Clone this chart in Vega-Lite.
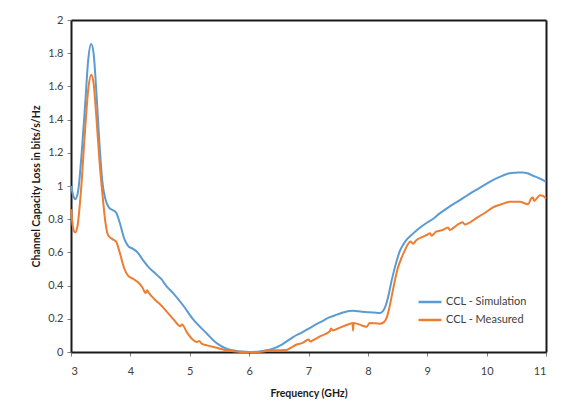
{
  "$schema": "https://vega.github.io/schema/vega-lite/v6.json",
  "autosize": {"type": "none"},
  "width": 475,
  "height": 332,
  "padding": {"left": 71, "top": 20, "right": 30, "bottom": 65},
  "background": "white",
  "config": {
    "font": "Lato",
    "view": {"stroke": null},
    "axis": {
      "labelFont": "Lato",
      "labelFontSize": 11,
      "labelColor": "#404040",
      "titleFont": "Lato",
      "titleFontSize": 10.5,
      "titleFontWeight": "bold",
      "titleColor": "#1a1a1a",
      "domainColor": "#1a1a1a",
      "domainWidth": 2,
      "tickColor": "#808080",
      "tickSize": 4,
      "grid": false
    }
  },
  "data": {
    "values": [
      {"f": 3.0, "v": 1.0, "s": "CCL - Simulation"},
      {"f": 3.04, "v": 0.94, "s": "CCL - Simulation"},
      {"f": 3.07, "v": 0.92, "s": "CCL - Simulation"},
      {"f": 3.12, "v": 0.97, "s": "CCL - Simulation"},
      {"f": 3.18, "v": 1.2, "s": "CCL - Simulation"},
      {"f": 3.24, "v": 1.5, "s": "CCL - Simulation"},
      {"f": 3.29, "v": 1.76, "s": "CCL - Simulation"},
      {"f": 3.34, "v": 1.855, "s": "CCL - Simulation"},
      {"f": 3.38, "v": 1.8, "s": "CCL - Simulation"},
      {"f": 3.43, "v": 1.55, "s": "CCL - Simulation"},
      {"f": 3.48, "v": 1.25, "s": "CCL - Simulation"},
      {"f": 3.53, "v": 1.02, "s": "CCL - Simulation"},
      {"f": 3.58, "v": 0.92, "s": "CCL - Simulation"},
      {"f": 3.64, "v": 0.87, "s": "CCL - Simulation"},
      {"f": 3.7, "v": 0.855, "s": "CCL - Simulation"},
      {"f": 3.76, "v": 0.84, "s": "CCL - Simulation"},
      {"f": 3.82, "v": 0.78, "s": "CCL - Simulation"},
      {"f": 3.9, "v": 0.68, "s": "CCL - Simulation"},
      {"f": 3.96, "v": 0.64, "s": "CCL - Simulation"},
      {"f": 4.05, "v": 0.62, "s": "CCL - Simulation"},
      {"f": 4.12, "v": 0.6, "s": "CCL - Simulation"},
      {"f": 4.2, "v": 0.56, "s": "CCL - Simulation"},
      {"f": 4.31, "v": 0.51, "s": "CCL - Simulation"},
      {"f": 4.4, "v": 0.48, "s": "CCL - Simulation"},
      {"f": 4.46, "v": 0.46, "s": "CCL - Simulation"},
      {"f": 4.52, "v": 0.44, "s": "CCL - Simulation"},
      {"f": 4.6, "v": 0.4, "s": "CCL - Simulation"},
      {"f": 4.72, "v": 0.355, "s": "CCL - Simulation"},
      {"f": 4.89, "v": 0.28, "s": "CCL - Simulation"},
      {"f": 5.05, "v": 0.2, "s": "CCL - Simulation"},
      {"f": 5.15, "v": 0.16, "s": "CCL - Simulation"},
      {"f": 5.29, "v": 0.11, "s": "CCL - Simulation"},
      {"f": 5.4, "v": 0.07, "s": "CCL - Simulation"},
      {"f": 5.51, "v": 0.04, "s": "CCL - Simulation"},
      {"f": 5.62, "v": 0.02, "s": "CCL - Simulation"},
      {"f": 5.73, "v": 0.01, "s": "CCL - Simulation"},
      {"f": 5.85, "v": 0.003, "s": "CCL - Simulation"},
      {"f": 6.0, "v": 0.0, "s": "CCL - Simulation"},
      {"f": 6.2, "v": 0.005, "s": "CCL - Simulation"},
      {"f": 6.4, "v": 0.02, "s": "CCL - Simulation"},
      {"f": 6.55, "v": 0.045, "s": "CCL - Simulation"},
      {"f": 6.74, "v": 0.09, "s": "CCL - Simulation"},
      {"f": 6.9, "v": 0.12, "s": "CCL - Simulation"},
      {"f": 7.07, "v": 0.155, "s": "CCL - Simulation"},
      {"f": 7.2, "v": 0.18, "s": "CCL - Simulation"},
      {"f": 7.36, "v": 0.21, "s": "CCL - Simulation"},
      {"f": 7.48, "v": 0.225, "s": "CCL - Simulation"},
      {"f": 7.6, "v": 0.24, "s": "CCL - Simulation"},
      {"f": 7.75, "v": 0.248, "s": "CCL - Simulation"},
      {"f": 7.9, "v": 0.242, "s": "CCL - Simulation"},
      {"f": 8.0, "v": 0.24, "s": "CCL - Simulation"},
      {"f": 8.1, "v": 0.238, "s": "CCL - Simulation"},
      {"f": 8.2, "v": 0.235, "s": "CCL - Simulation"},
      {"f": 8.25, "v": 0.245, "s": "CCL - Simulation"},
      {"f": 8.29, "v": 0.27, "s": "CCL - Simulation"},
      {"f": 8.34, "v": 0.33, "s": "CCL - Simulation"},
      {"f": 8.4, "v": 0.43, "s": "CCL - Simulation"},
      {"f": 8.47, "v": 0.53, "s": "CCL - Simulation"},
      {"f": 8.54, "v": 0.61, "s": "CCL - Simulation"},
      {"f": 8.6, "v": 0.65, "s": "CCL - Simulation"},
      {"f": 8.65, "v": 0.675, "s": "CCL - Simulation"},
      {"f": 8.75, "v": 0.71, "s": "CCL - Simulation"},
      {"f": 8.88, "v": 0.75, "s": "CCL - Simulation"},
      {"f": 9.0, "v": 0.78, "s": "CCL - Simulation"},
      {"f": 9.09, "v": 0.8, "s": "CCL - Simulation"},
      {"f": 9.21, "v": 0.835, "s": "CCL - Simulation"},
      {"f": 9.35, "v": 0.87, "s": "CCL - Simulation"},
      {"f": 9.55, "v": 0.915, "s": "CCL - Simulation"},
      {"f": 9.7, "v": 0.95, "s": "CCL - Simulation"},
      {"f": 9.89, "v": 0.99, "s": "CCL - Simulation"},
      {"f": 10.05, "v": 1.025, "s": "CCL - Simulation"},
      {"f": 10.22, "v": 1.055, "s": "CCL - Simulation"},
      {"f": 10.39, "v": 1.077, "s": "CCL - Simulation"},
      {"f": 10.5, "v": 1.08, "s": "CCL - Simulation"},
      {"f": 10.61, "v": 1.082, "s": "CCL - Simulation"},
      {"f": 10.7, "v": 1.075, "s": "CCL - Simulation"},
      {"f": 10.78, "v": 1.062, "s": "CCL - Simulation"},
      {"f": 10.9, "v": 1.045, "s": "CCL - Simulation"},
      {"f": 11.0, "v": 1.025, "s": "CCL - Simulation"},

      {"f": 3.0, "v": 0.86, "s": "CCL - Measured"},
      {"f": 3.03, "v": 0.76, "s": "CCL - Measured"},
      {"f": 3.07, "v": 0.72, "s": "CCL - Measured"},
      {"f": 3.11, "v": 0.76, "s": "CCL - Measured"},
      {"f": 3.17, "v": 0.98, "s": "CCL - Measured"},
      {"f": 3.23, "v": 1.3, "s": "CCL - Measured"},
      {"f": 3.29, "v": 1.58, "s": "CCL - Measured"},
      {"f": 3.34, "v": 1.67, "s": "CCL - Measured"},
      {"f": 3.38, "v": 1.62, "s": "CCL - Measured"},
      {"f": 3.43, "v": 1.4, "s": "CCL - Measured"},
      {"f": 3.48, "v": 1.15, "s": "CCL - Measured"},
      {"f": 3.53, "v": 0.95, "s": "CCL - Measured"},
      {"f": 3.58, "v": 0.78, "s": "CCL - Measured"},
      {"f": 3.63, "v": 0.7, "s": "CCL - Measured"},
      {"f": 3.7, "v": 0.68, "s": "CCL - Measured"},
      {"f": 3.76, "v": 0.665, "s": "CCL - Measured"},
      {"f": 3.82, "v": 0.6, "s": "CCL - Measured"},
      {"f": 3.9, "v": 0.5, "s": "CCL - Measured"},
      {"f": 3.96, "v": 0.46, "s": "CCL - Measured"},
      {"f": 4.05, "v": 0.44, "s": "CCL - Measured"},
      {"f": 4.13, "v": 0.42, "s": "CCL - Measured"},
      {"f": 4.2, "v": 0.39, "s": "CCL - Measured"},
      {"f": 4.26, "v": 0.355, "s": "CCL - Measured"},
      {"f": 4.28, "v": 0.372, "s": "CCL - Measured"},
      {"f": 4.31, "v": 0.356, "s": "CCL - Measured"},
      {"f": 4.43, "v": 0.31, "s": "CCL - Measured"},
      {"f": 4.52, "v": 0.28, "s": "CCL - Measured"},
      {"f": 4.62, "v": 0.24, "s": "CCL - Measured"},
      {"f": 4.73, "v": 0.195, "s": "CCL - Measured"},
      {"f": 4.84, "v": 0.155, "s": "CCL - Measured"},
      {"f": 4.87, "v": 0.165, "s": "CCL - Measured"},
      {"f": 4.95, "v": 0.12, "s": "CCL - Measured"},
      {"f": 5.05, "v": 0.075, "s": "CCL - Measured"},
      {"f": 5.12, "v": 0.06, "s": "CCL - Measured"},
      {"f": 5.16, "v": 0.067, "s": "CCL - Measured"},
      {"f": 5.2, "v": 0.05, "s": "CCL - Measured"},
      {"f": 5.29, "v": 0.04, "s": "CCL - Measured"},
      {"f": 5.4, "v": 0.03, "s": "CCL - Measured"},
      {"f": 5.51, "v": 0.02, "s": "CCL - Measured"},
      {"f": 5.62, "v": 0.01, "s": "CCL - Measured"},
      {"f": 5.73, "v": 0.005, "s": "CCL - Measured"},
      {"f": 6.0, "v": 0.0, "s": "CCL - Measured"},
      {"f": 6.2, "v": 0.002, "s": "CCL - Measured"},
      {"f": 6.4, "v": 0.01, "s": "CCL - Measured"},
      {"f": 6.63, "v": 0.012, "s": "CCL - Measured"},
      {"f": 6.7, "v": 0.025, "s": "CCL - Measured"},
      {"f": 6.8, "v": 0.045, "s": "CCL - Measured"},
      {"f": 6.9, "v": 0.055, "s": "CCL - Measured"},
      {"f": 7.0, "v": 0.075, "s": "CCL - Measured"},
      {"f": 7.03, "v": 0.063, "s": "CCL - Measured"},
      {"f": 7.07, "v": 0.07, "s": "CCL - Measured"},
      {"f": 7.2, "v": 0.095, "s": "CCL - Measured"},
      {"f": 7.36, "v": 0.125, "s": "CCL - Measured"},
      {"f": 7.38, "v": 0.142, "s": "CCL - Measured"},
      {"f": 7.41, "v": 0.13, "s": "CCL - Measured"},
      {"f": 7.55, "v": 0.15, "s": "CCL - Measured"},
      {"f": 7.7, "v": 0.17, "s": "CCL - Measured"},
      {"f": 7.74, "v": 0.175, "s": "CCL - Measured"},
      {"f": 7.75, "v": 0.13, "s": "CCL - Measured"},
      {"f": 7.76, "v": 0.175, "s": "CCL - Measured"},
      {"f": 7.9, "v": 0.16, "s": "CCL - Measured"},
      {"f": 7.98, "v": 0.152, "s": "CCL - Measured"},
      {"f": 8.03, "v": 0.175, "s": "CCL - Measured"},
      {"f": 8.2, "v": 0.17, "s": "CCL - Measured"},
      {"f": 8.27, "v": 0.18, "s": "CCL - Measured"},
      {"f": 8.32, "v": 0.21, "s": "CCL - Measured"},
      {"f": 8.37, "v": 0.28, "s": "CCL - Measured"},
      {"f": 8.42, "v": 0.37, "s": "CCL - Measured"},
      {"f": 8.5, "v": 0.5, "s": "CCL - Measured"},
      {"f": 8.57, "v": 0.57, "s": "CCL - Measured"},
      {"f": 8.62, "v": 0.61, "s": "CCL - Measured"},
      {"f": 8.66, "v": 0.64, "s": "CCL - Measured"},
      {"f": 8.72, "v": 0.665, "s": "CCL - Measured"},
      {"f": 8.76, "v": 0.652, "s": "CCL - Measured"},
      {"f": 8.82, "v": 0.675, "s": "CCL - Measured"},
      {"f": 8.9, "v": 0.69, "s": "CCL - Measured"},
      {"f": 8.99, "v": 0.705, "s": "CCL - Measured"},
      {"f": 9.05, "v": 0.715, "s": "CCL - Measured"},
      {"f": 9.07, "v": 0.7, "s": "CCL - Measured"},
      {"f": 9.15, "v": 0.725, "s": "CCL - Measured"},
      {"f": 9.26, "v": 0.735, "s": "CCL - Measured"},
      {"f": 9.35, "v": 0.75, "s": "CCL - Measured"},
      {"f": 9.38, "v": 0.735, "s": "CCL - Measured"},
      {"f": 9.5, "v": 0.765, "s": "CCL - Measured"},
      {"f": 9.6, "v": 0.782, "s": "CCL - Measured"},
      {"f": 9.63, "v": 0.768, "s": "CCL - Measured"},
      {"f": 9.84, "v": 0.81, "s": "CCL - Measured"},
      {"f": 10.0, "v": 0.845, "s": "CCL - Measured"},
      {"f": 10.1, "v": 0.87, "s": "CCL - Measured"},
      {"f": 10.25, "v": 0.89, "s": "CCL - Measured"},
      {"f": 10.39, "v": 0.905, "s": "CCL - Measured"},
      {"f": 10.56, "v": 0.905, "s": "CCL - Measured"},
      {"f": 10.65, "v": 0.895, "s": "CCL - Measured"},
      {"f": 10.7, "v": 0.89, "s": "CCL - Measured"},
      {"f": 10.75, "v": 0.925, "s": "CCL - Measured"},
      {"f": 10.78, "v": 0.93, "s": "CCL - Measured"},
      {"f": 10.8, "v": 0.91, "s": "CCL - Measured"},
      {"f": 10.9, "v": 0.945, "s": "CCL - Measured"},
      {"f": 10.95, "v": 0.94, "s": "CCL - Measured"},
      {"f": 11.0, "v": 0.925, "s": "CCL - Measured"}
    ]
  },
  "layer": [
    {
      "mark": {"type": "line", "strokeOpacity": 0},
      "encoding": {
        "x": {
          "field": "f",
          "type": "quantitative",
          "scale": {"domain": [3, 11], "nice": false},
          "axis": {"orient": "top", "title": null, "labels": false, "ticks": false}
        },
        "y": {
          "field": "v",
          "type": "quantitative",
          "scale": {"domain": [0, 2], "nice": false},
          "axis": {"orient": "right", "title": null, "labels": false, "ticks": false}
        },
        "detail": {"field": "s"}
      }
    },
    {
      "mark": {"type": "line", "strokeWidth": 2, "interpolate": "monotone"},
      "encoding": {
        "x": {
          "field": "f",
          "type": "quantitative",
          "scale": {"domain": [3, 11], "nice": false},
          "axis": {
            "title": "Frequency (GHz)",
            "values": [3, 4, 5, 6, 7, 8, 9, 10, 11],
            "format": "~g",
            "labelPadding": 9,
            "titlePadding": 12
          }
        },
        "y": {
          "field": "v",
          "type": "quantitative",
          "scale": {"domain": [0, 2], "nice": false},
          "axis": {
            "title": "Channel Capacity Loss in bits/s/Hz",
            "values": [0, 0.2, 0.4, 0.6, 0.8, 1, 1.2, 1.4, 1.6, 1.8, 2],
            "format": "~g",
            "labelPadding": 4,
            "titlePadding": 6
          }
        },
        "color": {
          "field": "s",
          "type": "nominal",
          "scale": {
            "domain": ["CCL - Simulation", "CCL - Measured"],
            "range": ["#5B9BD5", "#ED7D31"]
          },
          "legend": {
            "title": null,
            "orient": "none",
            "legendX": 346,
            "legendY": 269,
            "symbolType": "stroke",
            "symbolSize": 529,
            "symbolStrokeWidth": 2.5,
            "labelFont": "Lato",
            "labelFontSize": 11,
            "labelColor": "#404040",
            "rowPadding": 0,
            "labelOffset": 3
          }
        }
      }
    }
  ],
  "resolve": {"axis": {"x": "independent", "y": "independent"}}
}
